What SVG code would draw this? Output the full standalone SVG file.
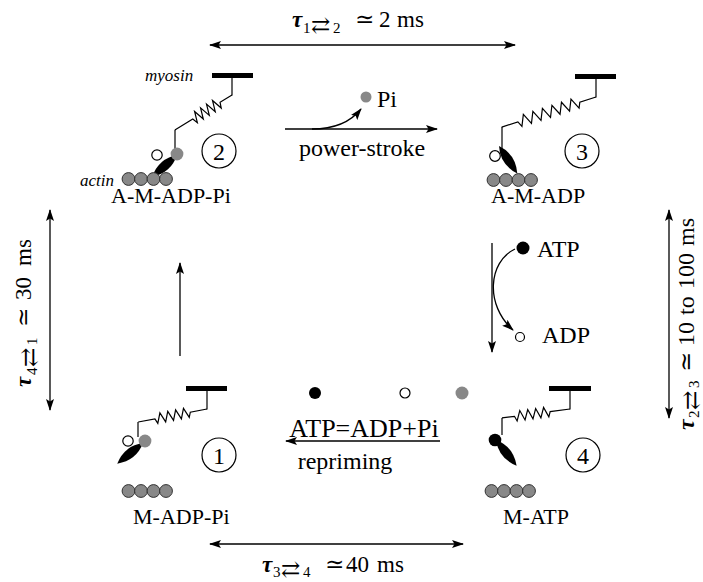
<svg xmlns="http://www.w3.org/2000/svg" xmlns:xlink="http://www.w3.org/1999/xlink" width="703" height="582" viewBox="0 0 703 582">
<style>
text{font-family:"Liberation Serif","DejaVu Serif",serif;fill:#000}
.ln{fill:none;stroke:#000;stroke-width:1.3}
.sp{fill:none;stroke:#000;stroke-width:1.2;stroke-linejoin:miter}
.bar{fill:#000}
.act{fill:#888;stroke:#333;stroke-width:1}
.pi{fill:#888}
.adp{fill:#fff;stroke:#000;stroke-width:1.2}
.atp{fill:#000}
.num{fill:none;stroke:#000;stroke-width:1.2}
.st{font-size:22px}
.mid{font-size:24px}
.lab{font-size:24px}
.it{font-style:italic;font-size:17px}
.ts{font-size:23px}
.tau{font-style:italic;font-weight:bold}
.sub{font-size:15px}
.arr{font-size:23px}
</style>
<defs>
<marker id="ah" viewBox="0 0 12 8" refX="11" refY="4" markerWidth="12" markerHeight="8" markerUnits="userSpaceOnUse" orient="auto-start-reverse">
<path d="M0,0 L12,4 L0,8 L2.5,4 z" fill="#000"/>
</marker>
<path id="lever" d="M0,0 Q16,-9.5 33,0 Q16,9.5 0,0 Z" fill="#000"/>
<g id="actin">
<circle cx="0" cy="0" r="6.4" class="act"/>
<circle cx="12.5" cy="0" r="6.4" class="act"/>
<circle cx="25" cy="0" r="6.4" class="act"/>
<circle cx="37.5" cy="0" r="6.4" class="act"/>
</g>
</defs>
<rect width="703" height="582" fill="#fff"/>

<g id="connectors">
<line class="ln" x1="210" y1="45" x2="515" y2="45" marker-start="url(#ah)" marker-end="url(#ah)"/>
<line class="ln" x1="210" y1="544" x2="463" y2="544" marker-start="url(#ah)" marker-end="url(#ah)"/>
<line class="ln" x1="50" y1="210" x2="50" y2="410" marker-start="url(#ah)" marker-end="url(#ah)"/>
<line class="ln" x1="669" y1="210" x2="669" y2="418" marker-start="url(#ah)" marker-end="url(#ah)"/>
<line id="e-power" class="ln" x1="285" y1="129" x2="437" y2="129" marker-end="url(#ah)"/>
<path id="e-pi" class="ln" d="M312,129 Q345,129 361,109" marker-end="url(#ah)"/>
<line id="e-atp" class="ln" x1="492" y1="243" x2="492" y2="352" marker-end="url(#ah)"/>
<path id="e-atpcurve" class="ln" d="M515,249 C488,262 485,305 513,330" marker-end="url(#ah)"/>
<line id="e-repriming" class="ln" x1="440" y1="441" x2="286" y2="441" marker-end="url(#ah)"/>
<line id="e-12" class="ln" x1="180" y1="356" x2="180" y2="263" marker-end="url(#ah)"/>
</g>

<g id="timescales">
<text y="27" class="ts"><tspan x="292" class="tau">τ</tspan><tspan x="303" y="33" class="sub">1</tspan><tspan x="311" class="arr">⇄</tspan><tspan x="333" class="sub">2</tspan><tspan x="355" y="27">≃</tspan><tspan x="379">2</tspan><tspan x="397">ms</tspan></text>
<text y="572" class="ts"><tspan x="262" class="tau">τ</tspan><tspan x="273" y="577" class="sub">3</tspan><tspan x="281" class="arr">⇄</tspan><tspan x="303" class="sub">4</tspan><tspan x="325" y="572">≃</tspan><tspan x="346">40</tspan><tspan x="377">ms</tspan></text>
<text transform="translate(31,387) rotate(-90)" class="ts"><tspan x="0" y="0" class="tau">τ</tspan><tspan x="12" y="6" class="sub">4</tspan><tspan x="20" class="arr">⇄</tspan><tspan x="42" class="sub">1</tspan><tspan x="60" y="0">≃</tspan><tspan x="87">30</tspan><tspan x="121">ms</tspan></text>
<text transform="translate(694,430) rotate(-90)" font-size="24"><tspan x="0" y="0" class="tau">τ</tspan><tspan x="12" y="5" class="sub">2</tspan><tspan x="20" class="arr">⇄</tspan><tspan x="42" class="sub">3</tspan><tspan x="58" y="0">≃</tspan><tspan x="84">10</tspan><tspan x="115">to</tspan><tspan x="141">100</tspan><tspan x="184">ms</tspan></text>
</g>

<g id="transition-labels">
<circle cx="366" cy="97" r="5.5" class="pi"/>
<text x="377" y="107" class="lab">Pi</text>
<text x="362" y="156" class="mid" text-anchor="middle">power-stroke</text>
<circle cx="523" cy="248" r="6.5" class="atp"/>
<text x="537" y="257" class="lab">ATP</text>
<circle cx="520" cy="337" r="4.5" class="adp"/>
<text x="542" y="343" class="lab">ADP</text>
<circle cx="315" cy="393" r="6" class="atp"/>
<circle cx="405" cy="393" r="5" class="adp"/>
<circle cx="462" cy="393" r="6.5" class="pi"/>
<text x="364" y="437" font-size="26" text-anchor="middle">ATP=ADP+Pi</text>
<text x="345" y="469" class="mid" text-anchor="middle">repriming</text>
</g>

<g id="state2">
<text x="145" y="81" class="it">myosin</text>
<text x="80" y="186" class="it">actin</text>
<rect x="212" y="73" width="41" height="5" class="bar"/>
<line class="sp" x1="232" y1="78" x2="232" y2="95.5"/>
<g transform="translate(232,95) rotate(148.5)"><path class="sp" d="M0,0 H14 l2,-5.5 l3.5,11 l3.5,-11 l3.5,11 l3.5,-11 l3.5,11 l3.5,-11 l3.5,11 l3.5,-11 l2,5.5 H67"/></g>
<line class="sp" x1="175" y1="130" x2="175" y2="149"/>
<use xlink:href="#lever" transform="translate(177,155) rotate(138.7)"/>
<circle cx="177" cy="154" r="6.4" class="pi"/>
<circle cx="157" cy="155" r="5.2" class="adp"/>
<use xlink:href="#actin" x="128.5" y="179"/>
<circle cx="219" cy="151" r="17" class="num"/>
<text x="219" y="160" class="mid" text-anchor="middle">2</text>
<text x="111" y="203" class="st">A-M-ADP-Pi</text>
</g>

<g id="state3">
<rect x="575" y="74" width="41" height="5" class="bar"/>
<line class="sp" x1="596" y1="79" x2="596" y2="97.5"/>
<g transform="translate(596,97) rotate(162.3)"><path class="sp" d="M0,0 H17 l2.5,-5.5 l5,11 l5,-11 l5,11 l5,-11 l5,11 l5,-11 l5,11 l5,-11 l5,11 l5,-11 l5,11 l5,-11 l2.5,5.5 H99"/></g>
<line class="sp" x1="502" y1="127" x2="502" y2="150"/>
<use xlink:href="#lever" transform="translate(499,146) rotate(56.3)"/>
<circle cx="495" cy="156" r="5.3" class="adp"/>
<use xlink:href="#actin" x="493.5" y="180"/>
<circle cx="582" cy="151" r="17" class="num"/>
<text x="582" y="160" class="mid" text-anchor="middle">3</text>
<text x="491" y="203" class="st">A-M-ADP</text>
</g>

<g id="state1">
<rect x="186" y="386" width="41" height="5" class="bar"/>
<line class="sp" x1="207" y1="391" x2="207" y2="409.5"/>
<g transform="translate(207,409) rotate(169.3)"><path class="sp" d="M0,0 H17 l2,-5 l4,10 l4,-10 l4,10 l4,-10 l4,10 l4,-10 l4,10 l4,-10 l2,5 H70"/></g>
<line class="sp" x1="138" y1="422" x2="138" y2="437"/>
<use xlink:href="#lever" transform="translate(143,443) rotate(141.3)"/>
<circle cx="145" cy="441" r="6.4" class="pi"/>
<circle cx="128" cy="441" r="5.2" class="adp"/>
<use xlink:href="#actin" x="128.5" y="491"/>
<circle cx="219" cy="455" r="17" class="num"/>
<text x="219" y="464" class="mid" text-anchor="middle">1</text>
<text x="133" y="524" class="st">M-ADP-Pi</text>
</g>

<g id="state4">
<rect x="549" y="386" width="42" height="5" class="bar"/>
<line class="sp" x1="570" y1="391" x2="570" y2="409.5"/>
<g transform="translate(570,409) rotate(172.5)"><path class="sp" d="M0,0 H20 l2,-5 l4,10 l4,-10 l4,10 l4,-10 l4,10 l4,-10 l4,10 l4,-10 l2,5 H68.6"/></g>
<line class="sp" x1="502" y1="418" x2="502" y2="435"/>
<use xlink:href="#lever" transform="translate(496,440) rotate(51.3)"/>
<circle cx="495" cy="440" r="6.3" class="atp"/>
<use xlink:href="#actin" x="491.5" y="491"/>
<circle cx="583" cy="455" r="17" class="num"/>
<text x="583" y="464" class="mid" text-anchor="middle">4</text>
<text x="503" y="524" class="st">M-ATP</text>
</g>
</svg>
